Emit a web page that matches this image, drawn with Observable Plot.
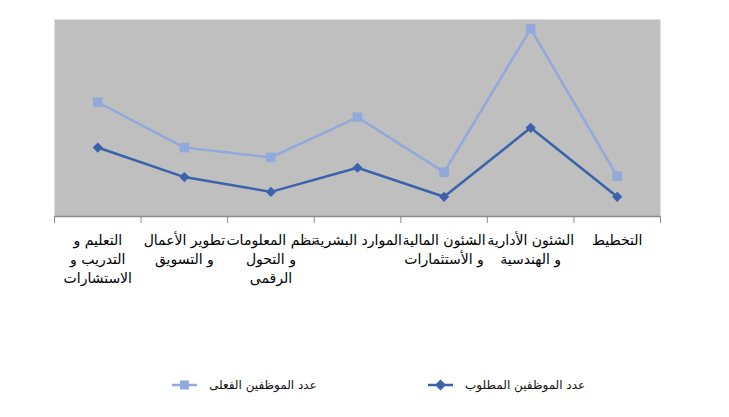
<!DOCTYPE html>
<html><head><meta charset="utf-8">
<script src="https://cdn.jsdelivr.net/npm/d3@7"></script>
<script src="https://cdn.jsdelivr.net/npm/@observablehq/plot@0.6"></script>
<style>
body{margin:0;background:#fff;width:729px;height:417px;position:relative;overflow:hidden;font-family:"DejaVu Sans",Arial,sans-serif;}
.leg{position:absolute;top:376px;height:18px;display:flex;align-items:center;font-size:12px;color:#111;white-space:nowrap;}
.leg span{direction:rtl;margin-left:12px;}
</style></head>
<body>
<div id="chart"></div>
<script>
const categories = [
  "التعليم و\nالتدريب و\nالاستشارات",
  "تطوير الأعمال\nو التسويق",
  "نظم المعلومات\nو التحول\nالرقمى",
  "الموارد البشرية",
  "الشئون المالية\nو الأستثمارات",
  "الشئون الأدارية\nو الهندسية",
  "التخطيط"
];
const requiredStaff = [28, 16, 10, 19.8, 8, 36, 8];
const actualStaff = [46.4, 28, 24, 40.3, 18, 76.2, 16.4];
const seriesNames = ["عدد الموظفين المطلوب", "عدد الموظفين الفعلى"];
const darkBlue = "#3b62ab", lightBlue = "#92a9dc";

const boundaries = d3.range(categories.length + 1).map(i => i - 0.5);

const chart = Plot.plot({
  width: 729, height: 300,
  marginLeft: 54, marginRight: 69, marginTop: 19, marginBottom: 84,
  x: {domain: [-0.5, categories.length - 0.5]},
  y: {domain: [0, 80], axis: null},
  style: {background: "white", fontFamily: "'DejaVu Sans', Arial, sans-serif", overflow: "visible"},
  marks: [
    Plot.frame({fill: "#bfbfbf", stroke: null}),
    Plot.ruleY([0], {stroke: "#8c8c8c", strokeWidth: 1.5}),
    Plot.axisX({ticks: boundaries, tickSize: 7, tickFormat: () => "", stroke: "#8c8c8c"}),
    Plot.text(categories, {x: (d, i) => i, y: 0, text: d => d, dy: 15, lineAnchor: "top",
      lineHeight: 1.35, fontSize: 14, fill: "#000"}),
    Plot.line(requiredStaff, {x: (d, i) => i, y: d => d, stroke: darkBlue, strokeWidth: 2.5}),
    Plot.dot(requiredStaff, {x: (d, i) => i, y: d => d, symbol: "diamond2", r: 4.6, fill: darkBlue, stroke: null}),
    Plot.line(actualStaff, {x: (d, i) => i, y: d => d, stroke: lightBlue, strokeWidth: 2.5}),
    Plot.dot(actualStaff, {x: (d, i) => i, y: d => d, symbol: "square", r: 5.4, fill: lightBlue, stroke: null})
  ]
});
document.getElementById("chart").appendChild(chart);

function legendItem(left, color, symbol, label) {
  const div = document.createElement("div");
  div.className = "leg";
  div.style.left = left + "px";
  const sym = symbol === "square"
    ? `<rect x="8" y="4.5" width="9" height="9" fill="${color}"/>`
    : `<path d="M12.5 3.5 L18 9 L12.5 14.5 L7 9 Z" fill="${color}"/>`;
  div.innerHTML = `<svg width="25" height="18"><line x1="0" x2="25" y1="9" y2="9" stroke="${color}" stroke-width="2.5"/>${sym}</svg><span>${label}</span>`;
  document.body.appendChild(div);
}
legendItem(172, lightBlue, "square", seriesNames[1]);
legendItem(428, darkBlue, "diamond", seriesNames[0]);
</script>
</body></html>
